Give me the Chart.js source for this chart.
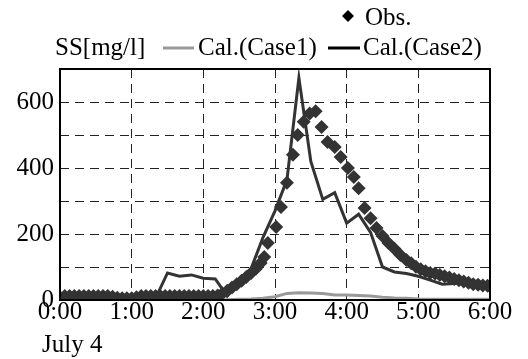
<!DOCTYPE html>
<html>
<head>
<meta charset="utf-8">
<script src="https://cdn.jsdelivr.net/npm/chart.js@4"></script>
<style>
  html, body { margin: 0; padding: 0; background: #fff; }
  #wrap { width: 528px; height: 359px; position: relative; }
</style>
</head>
<body>
<div id="wrap"><canvas id="ssChart" width="528" height="359"></canvas></div>
<script>
// minutes after 0:00, July 4
var obsTime = [0,4,8,12,16,20,24,28,32,36,40,44,48,52,56,60,64,68,72,76,80,84,88,92,96,100,104,108,112,116,120,124,128,
    132,136,140,144,148,152,156,160,164,168,171,174,181,185,190,195,199,204,209,214,219,224,230,235,241,246,250,
    255,260,265,270,275,280,285,290,294,298,302,306,310,314,318,322,326,330,334,338,342,346,350,354,358,360];
var obsValue = [8,12,12,12,12,12,12,12,12,12,12,10,7,5,5,5,8,12,12,12,12,12,12,12,12,12,12,12,12,12,12,12,12,
    14,20,28,38,48,58,70,82,95,112,130,173,221,282,355,440,500,540,565,572,524,479,464,433,400,373,339,
    279,248,218,194,173,155,136,121,111,101,93,87,82,80,76,72,68,64,60,56,52,48,46,44,43,42];

var calTime = [0,10,20,30,40,50,60,70,80,90,100,110,120,130,140,150,160,170,180,190,200,210,220,230,240,250,260,270,280,290,300,310,320,330,340,350,360];
var case1Value = [0,0,0,0,0,0,0,0,0,0,0,0,0,0,1,2,3,5,10,20,22,21,20,15,15,14,12,8,6,5,3,2,2,2,2,2,2];
var case2Value = [5,5,5,5,5,5,5,5,5,82,72,76,66,64,12,55,95,190,270,364,673,420,305,325,233,260,205,100,85,80,72,60,48,50,52,52,48];

var xTicks = [0,60,120,180,240,300,360];
var yLabels = [0,200,400,600];

var serif = '"Liberation Serif", "Times New Roman", serif';

function pts(t, v) {
    return t.map(function (x, i) { return { x: x, y: v[i] }; });
}

var frame = {
    id: 'frame',
    afterDraw: function (chart) {
        var ctx = chart.ctx, a = chart.chartArea;
        ctx.save();
        ctx.strokeStyle = '#000';
        ctx.lineWidth = 2;
        ctx.setLineDash([]);
        ctx.strokeRect(a.left, a.top, a.right - a.left, a.bottom - a.top);

        ctx.fillStyle = '#000';
        ctx.font = '25px ' + serif;
        ctx.textBaseline = 'middle';
        ctx.textAlign = 'left';
        ctx.fillText('SS[mg/l]', 55, 48);
        ctx.fillText('July 4', 42, 345);

        // legend
        var ds = chart.data.datasets;
        ctx.lineWidth = 3;
        ctx.strokeStyle = ds[2].borderColor;
        ctx.beginPath(); ctx.moveTo(163, 48); ctx.lineTo(194, 48); ctx.stroke();
        ctx.fillText(ds[2].label, 198, 48);
        ctx.strokeStyle = '#000';
        ctx.beginPath(); ctx.moveTo(328, 48); ctx.lineTo(360, 48); ctx.stroke();
        ctx.fillText(ds[1].label, 363, 48);
        ctx.beginPath();
        ctx.moveTo(348, 10); ctx.lineTo(354, 16); ctx.lineTo(348, 22); ctx.lineTo(342, 16);
        ctx.closePath(); ctx.fill();
        ctx.fillText(ds[0].label, 365, 18);
        ctx.restore();
    }
};

var gridColor = function (c) {
    return (c.tick && (c.index === 0 || c.index === c.scale.ticks.length - 1)) ? 'rgba(0,0,0,0)' : '#222';
};

new Chart(document.getElementById('ssChart'), {
    type: 'scatter',
    data: {
        datasets: [
            {
                label: 'Obs.',
                data: pts(obsTime, obsValue),
                pointStyle: 'rectRot',
                pointRadius: 7,
                backgroundColor: '#333',
                borderColor: '#333',
                borderWidth: 0,
                showLine: false
            },
            {
                label: 'Cal.(Case2)',
                data: pts(calTime, case2Value),
                showLine: true,
                borderColor: '#333',
                borderWidth: 3,
                pointRadius: 0,
                tension: 0
            },
            {
                label: 'Cal.(Case1)',
                data: pts(calTime, case1Value),
                showLine: true,
                borderColor: '#999',
                borderWidth: 3,
                pointRadius: 0,
                tension: 0
            }
        ]
    },
    options: {
        responsive: false,
        animation: false,
        layout: { padding: { top: 69, right: 38, left: 0, bottom: 0 } },
        plugins: { legend: { display: false }, tooltip: { enabled: false } },
        scales: {
            x: {
                type: 'linear', min: 0, max: 360,
                afterBuildTicks: function (s) { s.ticks = xTicks.map(function (v) { return { value: v }; }); },
                afterFit: function (s) { s.height = 59; },
                ticks: {
                    color: '#000', padding: -3, maxRotation: 0, autoSkip: false,
                    font: { family: serif, size: 25 },
                    callback: function (v) { return (v / 60) + ':00'; }
                },
                grid: { color: gridColor, lineWidth: 1, drawTicks: false },
                border: { display: false, dash: [9, 6] }
            },
            y: {
                type: 'linear', min: 0, max: 700,
                ticks: {
                    stepSize: 100, color: '#000', padding: 6,
                    font: { family: serif, size: 25 },
                    callback: function (v) { return yLabels.indexOf(v) >= 0 ? String(v) : ''; }
                },
                afterFit: function (s) { s.width = 60; },
                grid: { color: gridColor, lineWidth: 1, drawTicks: false },
                border: { display: false, dash: [9, 6] }
            }
        }
    },
    plugins: [frame]
});
</script>
</body>
</html>
